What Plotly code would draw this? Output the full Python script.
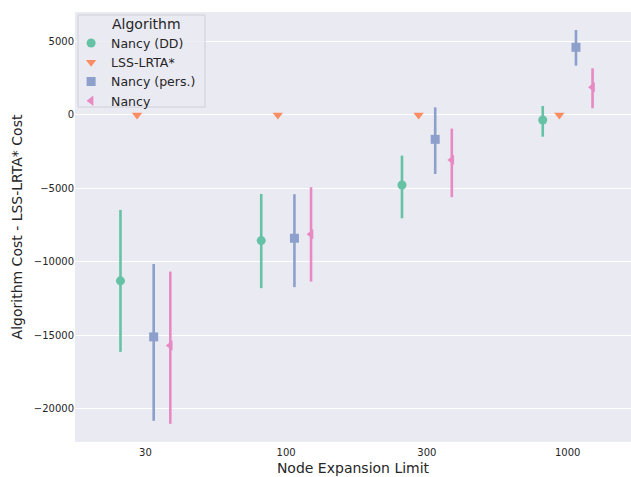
import plotly.graph_objects as go

categories = ["30", "100", "300", "1000"]
series_names = ["Nancy (DD)", "LSS-LRTA*", "Nancy (pers.)", "Nancy"]
colors = ["#66c2a5", "#fc8d62", "#8da0cb", "#e78ac3"]
symbols = ["circle", "triangle-down", "square", "triangle-left"]

# point estimates
means = {
    "Nancy (DD)":    [-11300, -8560, -4770, -340],
    "LSS-LRTA*":     [0, 0, 0, 0],
    "Nancy (pers.)": [-15120, -8400, -1660, 4610],
    "Nancy":         [-15710, -8120, -3060, 1890],
}
# confidence interval bounds
ci_low = {
    "Nancy (DD)":    [-16140, -11800, -7040, -1480],
    "LSS-LRTA*":     [0, 0, 0, 0],
    "Nancy (pers.)": [-20840, -11730, -4020, 3360],
    "Nancy":         [-21040, -11350, -5600, 460],
}
ci_high = {
    "Nancy (DD)":    [-6470, -5380, -2770, 610],
    "LSS-LRTA*":     [0, 0, 0, 0],
    "Nancy (pers.)": [-10150, -5400, 520, 5790],
    "Nancy":         [-10670, -4920, -930, 3180],
}
y_ticks = [-20000, -15000, -10000, -5000, 0, 5000]
y_tick_labels = ["\u221220000", "\u221215000", "\u221210000", "\u22125000", "0", "5000"]
legend_title = "Algorithm"

fig = go.Figure()
for name, col, sym in zip(series_names, colors, symbols):
    m = means[name]
    lo = ci_low[name]
    hi = ci_high[name]
    fig.add_trace(go.Scatter(
        x=categories, y=m, name=name, mode="markers",
        marker=dict(color=col, symbol=sym, size=9, line=dict(width=0)),
        error_y=dict(type="data", symmetric=False,
                     array=[h - v for h, v in zip(hi, m)],
                     arrayminus=[v - l for v, l in zip(m, lo)],
                     color=col, thickness=2.6, width=0, visible=True),
    ))

fig.update_layout(
    width=631, height=477,
    margin=dict(l=75, r=0, t=12, b=35, autoexpand=False),
    paper_bgcolor="white", plot_bgcolor="#EAEAF2",
    font=dict(family="DejaVu Sans", color="#262626"),
    scattermode="group", scattergap=0.528,
    showlegend=True,
    legend=dict(
        x=-0.007, y=0.962, xanchor="left", yanchor="top",
        bgcolor="rgba(0,0,0,0)", borderwidth=0,
        font=dict(size=12.5), itemsizing="trace", tracegroupgap=0,
        itemwidth=30,
    ),
    shapes=[dict(type="rect", xref="paper", yref="paper",
                 x0=0.0054, x1=0.2338, y0=0.779, y1=0.993, layer="above",
                 fillcolor="rgba(234,234,242,0.8)",
                 line=dict(color="#cfcfd6", width=1))],
    annotations=[dict(text=legend_title, xref="paper", yref="paper",
                      x=0.1286, y=0.972, xanchor="center", yanchor="middle",
                      showarrow=False, font=dict(size=14))],
)
fig.update_xaxes(
    type="category", range=[-0.5, 3.45], showgrid=False, zeroline=False,
    showline=False, ticks="", tickfont=dict(size=10), ticklabelstandoff=3,
    title=dict(text="Node Expansion Limit", font=dict(size=14), standoff=6),
)
fig.update_yaxes(
    range=[-22280, 7015], showgrid=True, gridcolor="white", gridwidth=1,
    zeroline=False, showline=False, ticks="",
    tickvals=y_ticks, ticktext=y_tick_labels, tickfont=dict(size=10),
    title=dict(text="Algorithm Cost - LSS-LRTA* Cost", font=dict(size=14), standoff=7),
)

fig.write_html("out.html", config={"displayModeBar": False},
               post_script="document.body.style.margin='0px';")
